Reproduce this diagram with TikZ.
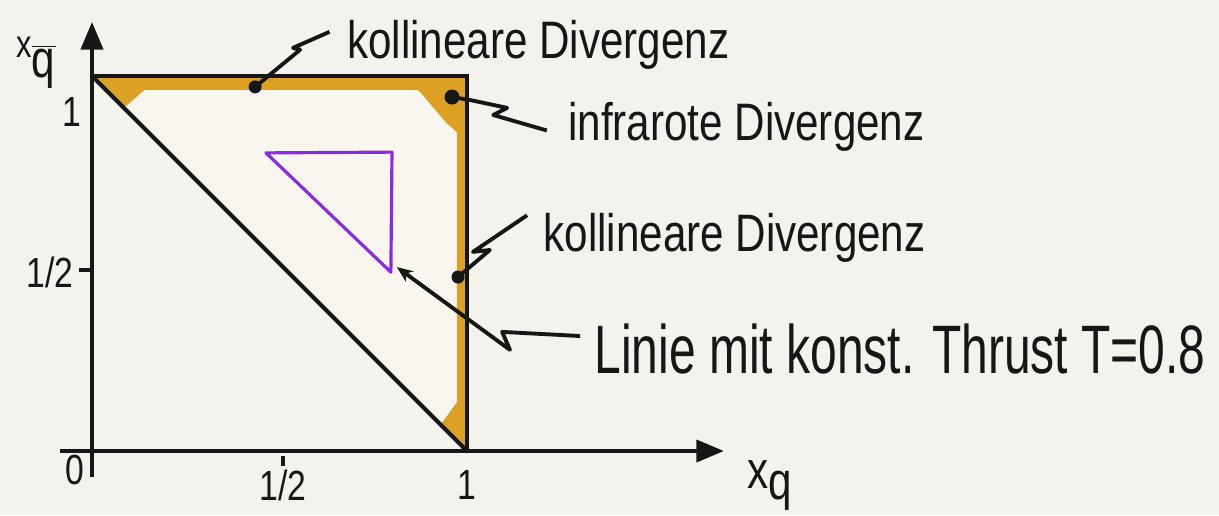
\documentclass[tikz,border=0pt]{standalone}
\usepackage{fontspec}
\usepackage{tikz}
\usetikzlibrary{arrows.meta}
\newfontfamily\hand[FakeStretch=0.8]{Liberation Sans}
\newfontfamily\handnarrow[FakeStretch=0.7]{Liberation Sans}
\definecolor{paper}{HTML}{F3F2ED}
\definecolor{region}{HTML}{F8F6EE}
\definecolor{diverg}{HTML}{DBA024}
\definecolor{thrust}{HTML}{8A2BE2}
\definecolor{ink}{HTML}{161616}

\begin{document}
\begin{tikzpicture}[
    x=7.5cm, y=7.5cm,
    axis/.style={draw=ink, line width=2.2pt, -{Triangle[length=5.5mm, width=4.4mm]}},
    edge/.style={draw=ink, line width=2.4pt, line cap=round},
    lead/.style={draw=ink, line width=2.2pt, line join=round},
    dot/.style={circle, fill=ink, inner sep=0pt, minimum size=2.6mm},
    tick/.style={font=\hand\fontsize{24pt}{28pt}\selectfont, text=ink, inner sep=0pt},
    lbl/.style={font=\hand\fontsize{30pt}{36pt}\selectfont, text=ink, anchor=base west, inner sep=0pt}
]
    \fill[paper] (-0.2453,-0.1707) rectangle (3.0053,1.2027);
    \useasboundingbox (-0.2453,-0.1707) rectangle (3.0053,1.2027);

    % Corners
    \coordinate (O) at (0,0);
    \coordinate (X1) at (1,0);
    \coordinate (Y1) at (0,1);
    \coordinate (XY) at (1,1);

    % Region and divergences
    \fill[region] (Y1) -- (XY) -- (X1) -- cycle;
    \fill[diverg] (Y1) -- (XY) -- (X1) -- (0.93,0.07) -- (0.973,0.13) -- (0.973,0.85)
        -- (0.945,0.875) -- (0.87,0.963) -- (0.14,0.963) -- (0.085,0.915) -- cycle;

    % Axes
    \draw[axis] (-0.085,0) -- (1.685,0);
    \draw[axis] (0,-0.069) -- (0,1.144);
    \draw[ink, line width=2pt] (0.509,-0.012) -- (0.509,-0.04);
    \draw[ink, line width=2pt] (-0.035,0.483) -- (-0.005,0.483);
    \node[tick] (x0) at (-0.045,-0.051) {0};
    \node[tick] (xhalf) at (0.509,-0.091) {1/2};
    \node[tick] (xone) at (1,-0.091) {1};
    \node[tick] (yhalf) at (-0.112,0.477) {1/2};
    \node[tick] (yone) at (-0.053,0.904) {1};
    \node[tick, font=\hand\fontsize{30pt}{34pt}\selectfont] (xq) at (1.808,-0.092) {x\raisebox{-0.22em}{q}};
    \node[tick, font=\hand\fontsize{22pt}{26pt}\selectfont] (xqbar) at (-0.149,1.035)
        {x$_{\overline{\mbox{\hand\fontsize{30pt}{32pt}\selectfont q}}}$};

    % Phase space edges
    \draw[edge] (Y1) -- (X1);
    \draw[edge] (Y1) -- (XY) -- (X1);

    % Thrust line
    \coordinate (t1) at (0.464,0.795);
    \coordinate (t2) at (0.8,0.797);
    \coordinate (t3) at (0.797,0.477);
    \draw[thrust, line width=1.8pt, line join=round] (t1) -- (t2) -- (t3) -- cycle;

    % Labels
    \node[lbl] (coltop) at (0.68,1.048) {kollineare Divergenz};
    \node[lbl] (ir) at (1.269,0.829) {infrarote Divergenz};
    \node[lbl] (colright) at (1.203,0.531) {kollineare Divergenz};
    \node[lbl, font=\handnarrow\fontsize{39pt}{44pt}\selectfont] (thrustlbl) at (1.339,0.208) {Linie mit konst. Thrust T=0.8};

    % Leads
    \node[dot] (d1) at (0.435,0.971) {};
    \node[dot, minimum size=3mm] (d2) at (0.96,0.944) {};
    \node[dot] (d3) at (0.976,0.464) {};
    \draw[lead] (d1.center) -- ++(0.12,0.099) -- ++(-0.019,0.005) -- ([xshift=-0.35cm,yshift=0.25cm]coltop.west);
    \draw[lead] (d2.center) -- ++(0.048,-0.008) -- ++(0.099,-0.021) -- ++(-0.037,-0.019) -- ([xshift=-0.42cm,yshift=-0.08cm]ir.west);
    \draw[lead] (d3.center) -- ++(0.085,0.072) -- ++(-0.045,-0.005) -- ([xshift=-0.32cm,yshift=0.46cm]colright.west);
    \draw[lead, -{Stealth[length=3.2mm, width=2.6mm]}] ([xshift=-0.28cm,yshift=0.25cm]thrustlbl.west)
        -- ++(-0.208,0.011) -- ++(0.021,-0.048) -- ([xshift=0.12cm,yshift=0.1cm]t3);
\end{tikzpicture}
\end{document}
